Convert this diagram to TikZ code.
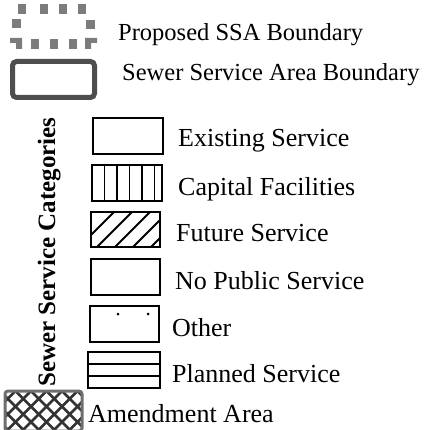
\documentclass[tikz,border=0pt]{standalone}
\usepackage{fontspec}
\setmainfont{Liberation Serif}
\definecolor{ssagray}{HTML}{7C7C7C}
\definecolor{bndgray}{HTML}{4E4E4E}
\definecolor{hatchgray}{HTML}{333333}
\definecolor{amdgray}{HTML}{6E6E6E}
\begin{document}
\begin{tikzpicture}[x=1pt,y=1pt,
  legbox/.style={draw=black, line width=1.8pt},
  hatchline/.style={line width=1.8pt},
  lbl/.style={anchor=base west, inner sep=0pt, font=\fontsize{26}{30}\selectfont},
  toplbl/.style={anchor=base west, inner sep=0pt, font=\fontsize{24.5}{29}\selectfont},
  ssasq/.style={fill=ssagray}]
\useasboundingbox (0,0) rectangle (430,-430);

% Proposed SSA boundary symbol
\fill[ssasq] (18,-4) rectangle (26,-14);
\fill[ssasq] (40,-4) rectangle (48,-14);
\fill[ssasq] (59,-4) rectangle (67,-14);
\fill[ssasq] (78,-4) rectangle (86,-14);
\fill[ssasq] (12,-19) rectangle (21,-28);
\fill[ssasq] (86,-20) rectangle (95,-29);
\fill[ssasq] (10,-38) -- (22,-38) -- (22,-49) -- (16,-49) -- (16,-43) -- (10,-43) -- cycle;
\fill[ssasq] (31,-39) rectangle (39,-49);
\fill[ssasq] (50,-39) rectangle (58,-49);
\fill[ssasq] (69,-39) rectangle (77,-49);
\fill[ssasq] (85,-38) -- (97,-38) -- (97,-43) -- (91,-43) -- (91,-49) -- (85,-49) -- cycle;
\node[toplbl] (ssa) at (118,-41) {Proposed SSA Boundary};

% Sewer service area boundary symbol
\draw[bndgray, line width=5pt, rounded corners=4pt] (12.5,-61.5) rectangle (94.5,-97.5);
\node[toplbl] (ssabl) at (122,-81) {Sewer Service Area Boundary};

% Vertical title
\node[rotate=90, anchor=base, inner sep=0pt, font=\bfseries\fontsize{25}{30}\selectfont] (title) at (55,-252) {Sewer Service Categories};

% Existing
\draw[legbox] (93,-118) rectangle (163,-154);
\node[lbl] (existl) at (178,-147) {Existing Service};

% Capital facilities
\draw[legbox] (92,-165) rectangle (162,-201);
\foreach \xx in {104.5,117,129.5,142,154.5}
  \draw[hatchline] (\xx,-165) -- (\xx,-201);
\node[lbl] (capl) at (178,-195) {Capital Facilities};

% Future service
\begin{scope}
  \clip (91,-212) rectangle (160,-247);
  \foreach \k in {0,...,5}
    \draw[hatchline] (\k*18+79,-247) -- ++(40,40);
\end{scope}
\draw[legbox] (91,-212) rectangle (160,-247);
\node[lbl] (futl) at (176,-241) {Future Service};

% No public service
\draw[legbox] (91,-259) rectangle (160,-295);
\node[lbl] (nopsl) at (175,-289) {No Public Service};

% Other
\draw[legbox] (90,-306) rectangle (159,-342);
\fill (118,-314) circle (1.5);
\fill (148,-314) circle (1.5);
\node[lbl] (othl) at (172,-336) {Other};

% Planned service
\draw[legbox] (88,-352) rectangle (160,-388);
\draw[hatchline] (88,-364) -- (160,-364);
\draw[hatchline] (88,-376) -- (160,-376);
\node[lbl] (planl) at (172,-382) {Planned Service};

% Amendment area
\begin{scope}
  \clip[rounded corners=3pt] (5,-391) rectangle (82,-431);
  \foreach \k in {-4,...,8}
    {\draw[line width=2.6pt, hatchgray] (\k*15.5,-391) -- ++(45,-45);
     \draw[line width=2.6pt, hatchgray] (\k*15.5,-391) -- ++(-45,-45);}
\end{scope}
\draw[amdgray, line width=3pt, rounded corners=3pt] (5,-391) rectangle (82,-431);
\node[lbl] (amdl) at (88,-422) {Amendment Area};
\end{tikzpicture}
\end{document}
